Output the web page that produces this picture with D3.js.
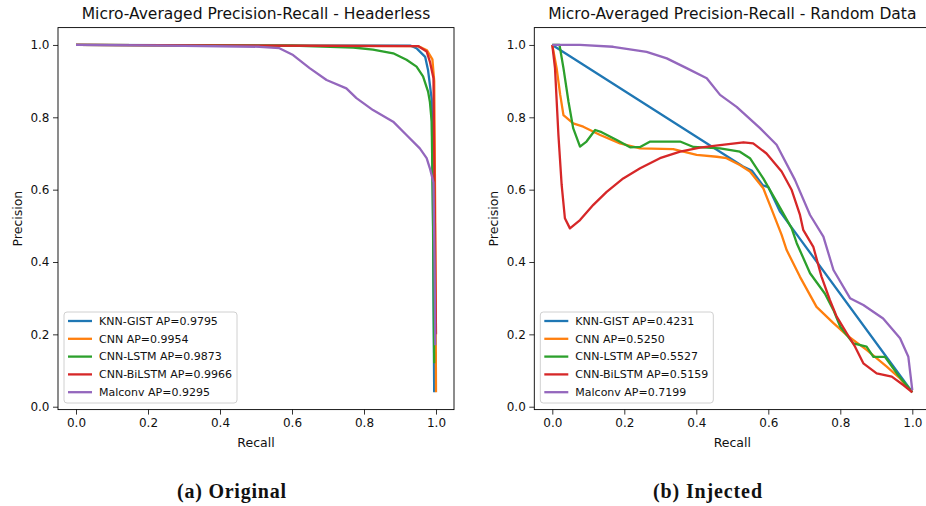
<!DOCTYPE html>
<html>
<head>
<meta charset="utf-8">
<script src="https://cdn.jsdelivr.net/npm/d3@7"></script>
<style>
    body { margin: 0; background: #fff; }
    text { font-family: "DejaVu Sans", sans-serif; }
</style>
</head>
<body>
<div id="figure"></div>
<script>
/*global d3 */

// Model names and average precision per panel
var modelNames = ["KNN-GIST", "CNN", "CNN-LSTM", "CNN-BiLSTM", "Malconv"];
var origAP = ["0.9795", "0.9954", "0.9873", "0.9966", "0.9295"];
var injAP = ["0.4231", "0.5250", "0.5527", "0.5159", "0.7199"];

var tickValues = [0, 0.2, 0.4, 0.6, 0.8, 1.0];

// Panel (a) Headerless, [recall, precision]
var origKnn = [[0, 1.0], [0.93, 0.998], [0.947, 0.99], [0.97, 0.967], [0.978, 0.93],
    [0.988, 0.85], [0.991, 0.6], [0.995, 0.04]];
var origCnn = [[0, 1.0], [0.95, 0.997], [0.975, 0.985], [0.99, 0.96], [0.995, 0.9],
    [0.998, 0.5], [1.0, 0.04]];
var origCnnLstm = [[0, 1.0], [0.6, 0.998], [0.77, 0.993], [0.825, 0.987], [0.881, 0.977],
    [0.918, 0.959], [0.946, 0.94], [0.964, 0.913], [0.978, 0.871], [0.983, 0.843],
    [0.988, 0.788], [0.992, 0.5], [0.995, 0.12]];
var origCnnBiLstm = [[0, 1.0], [0.95, 0.997], [0.974, 0.982], [0.983, 0.954], [0.993, 0.908],
    [0.997, 0.5], [1.0, 0.2]];
var origMalconv = [[0, 1.0], [0.2, 0.999], [0.51, 0.995], [0.565, 0.991], [0.603, 0.972],
    [0.649, 0.936], [0.696, 0.903], [0.751, 0.88], [0.779, 0.853], [0.825, 0.82],
    [0.881, 0.788], [0.918, 0.751], [0.955, 0.714], [0.974, 0.687], [0.983, 0.659],
    [0.993, 0.62], [0.996, 0.4], [0.998, 0.17]];

// Panel (b) Random Data, [recall, precision]
var injKnn = [[0, 1.0], [0.53, 0.664], [0.555, 0.652], [0.585, 0.612], [0.6, 0.607],
    [0.632, 0.54], [1.0, 0.04]];
var injCnn = [[0, 1.0], [0.012, 0.936], [0.022, 0.862], [0.031, 0.806], [0.058, 0.783],
    [0.086, 0.774], [0.133, 0.751], [0.188, 0.728], [0.244, 0.714], [0.336, 0.712],
    [0.401, 0.696], [0.457, 0.691], [0.484, 0.687], [0.521, 0.668], [0.549, 0.65],
    [0.586, 0.604], [0.609, 0.546], [0.637, 0.475], [0.651, 0.433], [0.688, 0.359],
    [0.734, 0.276], [0.781, 0.231], [0.818, 0.198], [0.873, 0.157], [0.929, 0.111],
    [0.966, 0.078], [1.0, 0.04]];
var injCnnLstm = [[0, 1.0], [0.02, 1.0], [0.031, 0.936], [0.045, 0.843], [0.058, 0.77],
    [0.077, 0.719], [0.095, 0.733], [0.119, 0.765], [0.137, 0.759], [0.179, 0.737],
    [0.216, 0.717], [0.244, 0.718], [0.272, 0.733], [0.355, 0.733], [0.392, 0.718],
    [0.466, 0.714], [0.521, 0.705], [0.549, 0.687], [0.586, 0.631], [0.623, 0.567],
    [0.665, 0.493], [0.679, 0.452], [0.716, 0.369], [0.757, 0.313], [0.781, 0.267],
    [0.8, 0.221], [0.836, 0.175], [0.873, 0.166], [0.892, 0.138], [0.924, 0.138],
    [0.957, 0.092], [1.0, 0.04]];
var injCnnBiLstm = [[0, 1.0], [0.0075, 0.936], [0.017, 0.751], [0.026, 0.613], [0.035, 0.521],
    [0.049, 0.493], [0.077, 0.516], [0.114, 0.558], [0.151, 0.594], [0.197, 0.631],
    [0.244, 0.659], [0.299, 0.687], [0.355, 0.705], [0.41, 0.716], [0.466, 0.723],
    [0.531, 0.731], [0.558, 0.728], [0.595, 0.7], [0.637, 0.65], [0.665, 0.599],
    [0.688, 0.53], [0.697, 0.489], [0.725, 0.442], [0.748, 0.359], [0.771, 0.295],
    [0.79, 0.249], [0.818, 0.203], [0.841, 0.166], [0.864, 0.12], [0.901, 0.092],
    [0.943, 0.083], [0.975, 0.06], [1.0, 0.04]];
var injMalconv = [[0, 1.0], [0.077, 1.0], [0.169, 0.995], [0.262, 0.981], [0.318, 0.963],
    [0.373, 0.936], [0.429, 0.908], [0.466, 0.862], [0.512, 0.829], [0.577, 0.77],
    [0.623, 0.724], [0.674, 0.627], [0.716, 0.53], [0.753, 0.47], [0.781, 0.378],
    [0.827, 0.3], [0.864, 0.281], [0.919, 0.244], [0.966, 0.189], [0.989, 0.138],
    [1.0, 0.046]];

var colors = ["#1f77b4", "#ff7f0e", "#2ca02c", "#d62728", "#9467bd"];

function createPanel(svg, opts) {
    "use strict";

    var x = d3.scaleLinear().domain([-0.05, 1.05]).range([opts.left, opts.left + 396]),
        y = d3.scaleLinear().domain([-0.008, 1.048]).range([409.6, 27.6]),
        top = y.range()[1],
        bottom = y.range()[0],
        line = d3.line()
            .x(function (d) { return x(d[0]); })
            .y(function (d) { return y(d[1]); }),
        g = svg.append("g");

    g.append("clipPath").attr("id", opts.id)
        .append("rect")
        .attr("x", x.range()[0]).attr("y", top)
        .attr("width", x.range()[1] - x.range()[0])
        .attr("height", bottom - top);

    // Curves
    var curves = g.append("g").attr("clip-path", "url(#" + opts.id + ")");
    opts.series.forEach(function (s, i) {
        curves.append("path")
            .datum(s)
            .attr("fill", "none")
            .attr("stroke", colors[i])
            .attr("stroke-width", 2.3)
            .attr("stroke-linejoin", "round")
            .attr("d", line);
    });

    // Axes
    var xAxis = g.append("g")
        .attr("transform", "translate(0," + bottom + ")")
        .call(d3.axisBottom(x).tickValues(tickValues).tickFormat(d3.format(".1f"))
            .tickSize(5).tickPadding(4));
    var yAxis = g.append("g")
        .attr("transform", "translate(" + x.range()[0] + ",0)")
        .call(d3.axisLeft(y).tickValues(tickValues).tickFormat(d3.format(".1f"))
            .tickSize(5).tickPadding(3.5));
    [xAxis, yAxis].forEach(function (a) {
        a.select(".domain").remove();
        a.selectAll("line").attr("stroke", "#000").attr("stroke-width", 0.8);
        a.selectAll("text")
            .attr("fill", "#111")
            .style("font-family", "DejaVu Sans")
            .style("font-size", "12px");
    });

    // Frame
    g.append("rect")
        .attr("x", x.range()[0]).attr("y", top)
        .attr("width", x.range()[1] - x.range()[0])
        .attr("height", bottom - top)
        .attr("fill", "none")
        .attr("stroke", "#000")
        .attr("stroke-width", 0.9);

    // Title and axis labels
    g.append("text")
        .attr("x", (x.range()[0] + x.range()[1]) / 2).attr("y", 19)
        .style("text-anchor", "middle")
        .style("font-size", "15.5px")
        .attr("fill", "#111")
        .text(opts.title);
    g.append("text")
        .attr("x", (x.range()[0] + x.range()[1]) / 2).attr("y", 447)
        .style("text-anchor", "middle")
        .style("font-size", "12.5px")
        .attr("fill", "#111")
        .text("Recall");
    g.append("text")
        .attr("transform", "rotate(-90)")
        .attr("x", -(top + bottom) / 2).attr("y", opts.left - 36)
        .style("text-anchor", "middle")
        .style("font-size", "12.5px")
        .attr("fill", "#111")
        .text("Precision");

    // Legend
    var lx = x.range()[0] + 6,
        legend = g.append("g");
    legend.append("rect")
        .attr("x", lx).attr("y", 312)
        .attr("width", 173).attr("height", 91)
        .attr("rx", 3)
        .attr("fill", "#fff").attr("fill-opacity", 0.8)
        .attr("stroke", "#d0d0d0");
    modelNames.forEach(function (name, i) {
        var ly = 321 + i * 17.8;
        legend.append("line")
            .attr("x1", lx + 4).attr("x2", lx + 28)
            .attr("y1", ly).attr("y2", ly)
            .attr("stroke", colors[i])
            .attr("stroke-width", 2.3);
        legend.append("text")
            .attr("x", lx + 35).attr("y", ly)
            .attr("dy", "0.35em")
            .style("font-size", "11px")
            .attr("fill", "#111")
            .text(name + " AP=" + opts.ap[i]);
    });

    // Caption
    g.append("text")
        .attr("x", opts.captionX).attr("y", 498)
        .style("text-anchor", "middle")
        .style("font-family", "Liberation Serif")
        .style("font-weight", "bold")
        .style("font-size", "20px")
        .attr("textLength", 109)
        .attr("fill", "#111")
        .text(opts.caption);
}

var svg = d3.select("#figure").append("svg")
    .attr("width", 926)
    .attr("height", 506);

createPanel(svg, {
    id: "clipA", left: 58, title: "Micro-Averaged Precision-Recall - Headerless",
    series: [origKnn, origCnn, origCnnLstm, origCnnBiLstm, origMalconv],
    ap: origAP, caption: "(a) Original", captionX: 231.5
});
createPanel(svg, {
    id: "clipB", left: 534.3, title: "Micro-Averaged Precision-Recall - Random Data",
    series: [injKnn, injCnn, injCnnLstm, injCnnBiLstm, injMalconv],
    ap: injAP, caption: "(b) Injected", captionX: 707.5
});
</script>
</body>
</html>
